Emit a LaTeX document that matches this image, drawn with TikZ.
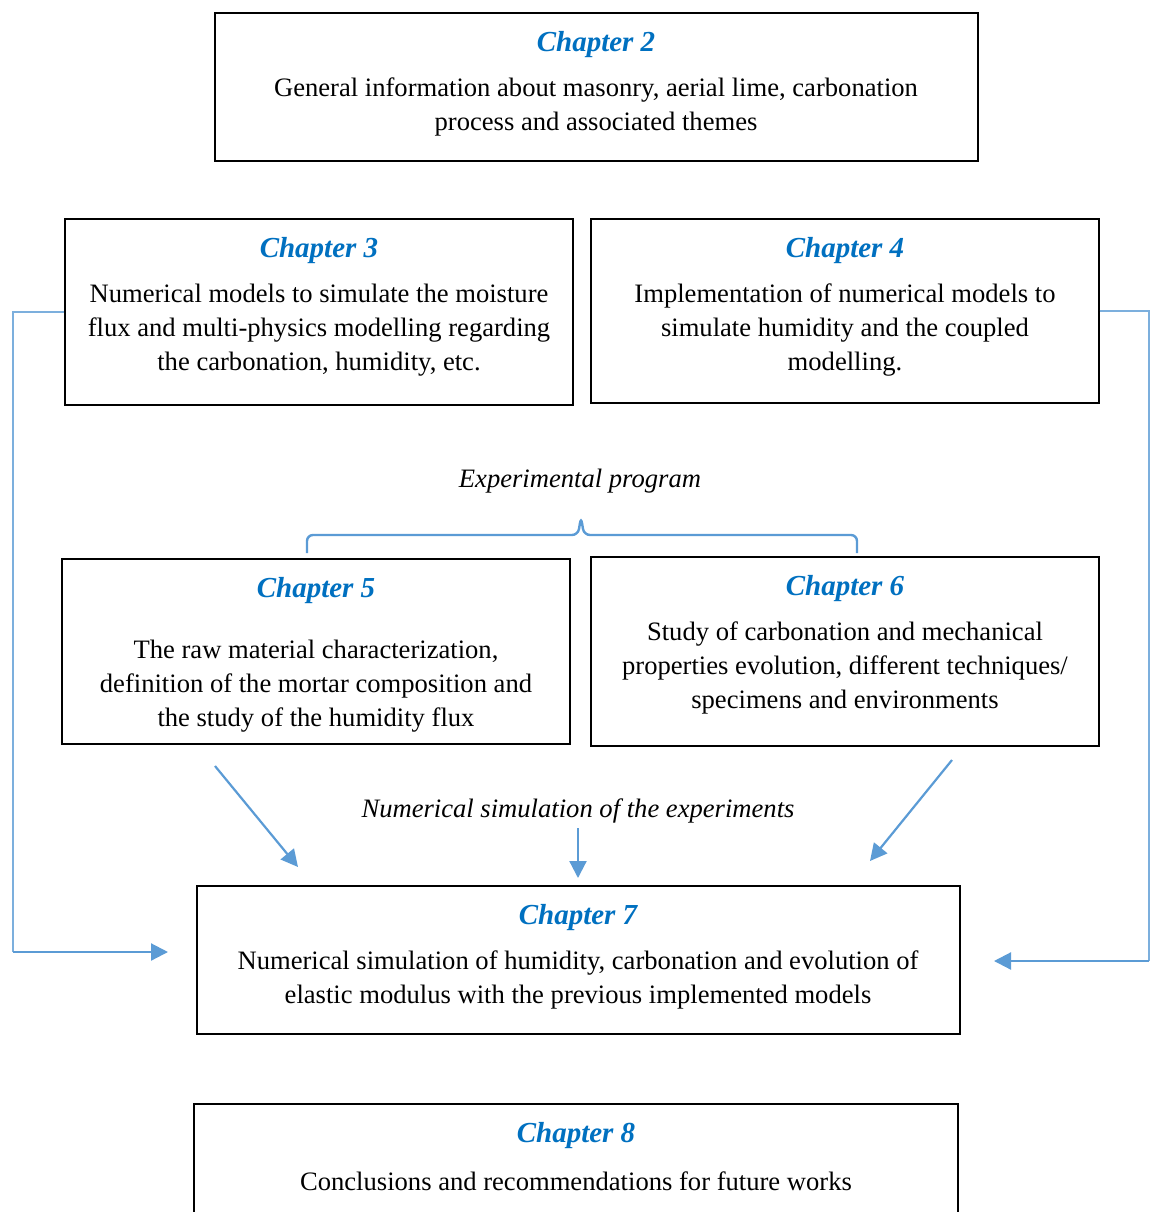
\documentclass[tikz,border=0pt]{standalone}
\usepackage{fontspec}
\setmainfont{Liberation Serif}
\usetikzlibrary{arrows.meta,positioning,calc}
\definecolor{chapblue}{RGB}{0,112,192}
\definecolor{linkblue}{RGB}{91,155,213}

\begin{document}
\begin{tikzpicture}[x=0.5pt,y=-0.5pt,
  chapbox/.style={draw,line width=0.6pt,inner sep=0pt},
  chaptitle/.style={font=\fontsize{14.5}{17}\selectfont\bfseries\itshape,text=chapblue,inner sep=0pt},
  chaptext/.style={font=\fontsize{13.3}{17}\selectfont,align=center,inner sep=0pt},
  note/.style={font=\fontsize{13.3}{17}\selectfont\itshape,inner sep=0pt},
  flow/.style={draw=linkblue,line width=1.1pt,-{Triangle[length=8.5pt,width=8.5pt]}},
  side/.style={draw=linkblue!80,line width=0.6pt}]
\useasboundingbox (0,0) rectangle (1150,1212);

% chapter boxes
\node (c2) at (596.5,87) [chapbox,minimum width=381.5pt,minimum height=74pt] {};
\node (c3) at (319,312) [chapbox,minimum width=254pt,minimum height=93pt] {};
\node (c4) at (845,311) [chapbox,minimum width=254pt,minimum height=92pt] {};
\node (c5) at (316,651.5) [chapbox,minimum width=254pt,minimum height=92.5pt] {};
\node (c6) at (845,651.5) [chapbox,minimum width=254pt,minimum height=94.5pt] {};
\node (c7) at (578.5,960) [chapbox,minimum width=381.5pt,minimum height=74pt] {};
\node (c8) at (576,1179) [chapbox,minimum width=382pt,minimum height=75pt] {};

% titles and texts
\node (t2) at (596,45) [chaptitle] {Chapter 2};
\node (b2) at (596,107) [chaptext] {General information about masonry, aerial lime, carbonation\\process and associated themes};
\node (t3) at (319,251) [chaptitle] {Chapter 3};
\node (b3) at (319,330) [chaptext] {Numerical models to simulate the moisture\\flux and multi-physics modelling regarding\\the carbonation, humidity, etc.};
\node (t4) at (845,251) [chaptitle] {Chapter 4};
\node (b4) at (845,330) [chaptext] {Implementation of numerical models to\\simulate humidity and the coupled\\modelling.};
\node (t5) at (316,591) [chaptitle] {Chapter 5};
\node (b5) at (316,686) [chaptext] {The raw material characterization,\\definition of the mortar composition and\\the study of the humidity flux};
\node (t6) at (845,589) [chaptitle] {Chapter 6};
\node (b6) at (845,668) [chaptext] {Study of carbonation and mechanical\\properties evolution, different techniques/\\specimens and environments};
\node (t7) at (578,918) [chaptitle] {Chapter 7};
\node (b7) at (578,980) [chaptext] {Numerical simulation of humidity, carbonation and evolution of\\elastic modulus with the previous implemented models};
\node (t8) at (576,1136) [chaptitle] {Chapter 8};
\node (b8) at (576,1181) [chaptext] {Conclusions and recommendations for future works};

\node (exp) at (580,481) [note] {Experimental program};
\node (sim) at (578,811) [note] {Numerical simulation of the experiments};

% brace over chapters 5 and 6
\draw[draw=linkblue,line width=1.2pt,rounded corners=3pt]
  (307,553) -- (307,535) -- (578,535) -- (581,517) -- (584,535) -- (857,535) -- (857,553);

% arrows into chapter 7
\coordinate (c5out) at (215,766);
\coordinate (c7in1) at (298,867);
\coordinate (simout) at (578,828);
\coordinate (c7in2) at (578,878);
\coordinate (c6out) at (952,760);
\coordinate (c7in3) at (870,861);
\draw[flow] (c5out) -- (c7in1);
\draw[flow] (simout) -- (c7in2);
\draw[flow] (c6out) -- (c7in3);

% side links
\coordinate (lturn) at (13,952);
\coordinate (c7left) at (168,952);
\coordinate (rturn) at (1149,961);
\coordinate (c7right) at (994,961);
\draw[side] (c3.west) -| (lturn);
\draw[flow] (lturn) -- (c7left);
\draw[side] (c4.east) -| (rturn);
\draw[flow] (rturn) -- (c7right);
\end{tikzpicture}
\end{document}
